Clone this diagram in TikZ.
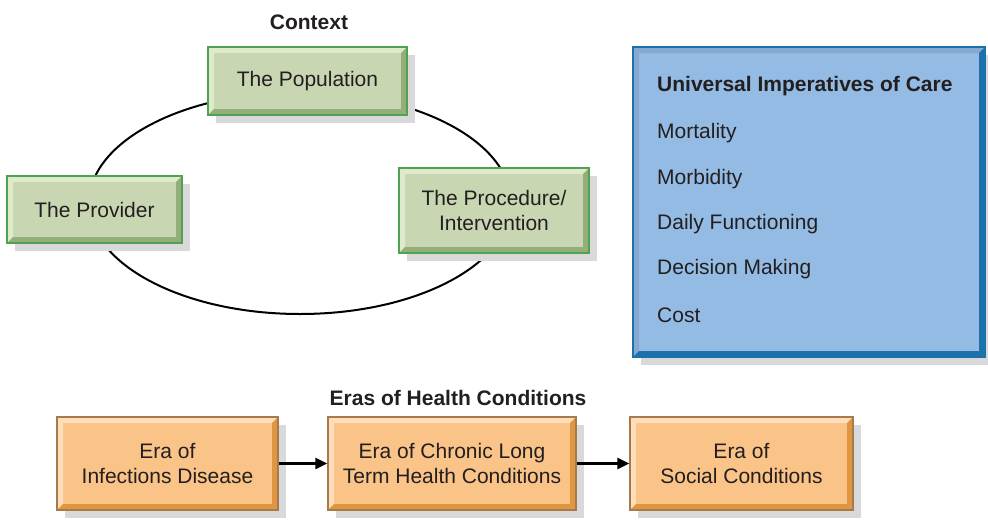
\documentclass[tikz,border=0pt]{standalone}
\usepackage{fontspec}
\setmainfont{Liberation Sans}
\usetikzlibrary{arrows.meta}
\definecolor{txt}{HTML}{231F20}
\definecolor{shadowc}{HTML}{D9D9DC}
\definecolor{gmain}{HTML}{C8D6B1}
\definecolor{glight}{HTML}{DDEBCA}
\definecolor{gdark}{HTML}{93AE78}
\definecolor{gborder}{HTML}{4FA24F}
\definecolor{bmain}{HTML}{93BBE3}
\definecolor{blight}{HTML}{84AAD1}
\definecolor{bdark}{HTML}{1B72AA}
\definecolor{omain}{HTML}{FAC387}
\definecolor{olight}{HTML}{FDDDBA}
\definecolor{odark}{HTML}{E0953F}
\definecolor{oborder}{HTML}{A57A4C}
\tikzset{
  txtstyle/.style={font=\fontsize{21}{25}\selectfont, text=txt},
  bevelbox/.style n args={4}{
    draw=#3, line width=1.2pt, fill=#1, inner sep=0pt, align=center,
    txtstyle,
    preaction={fill=shadowc, draw=none, transform canvas={xshift=8pt,yshift=-8pt}},
    path picture={
      \fill[#2] (path picture bounding box.north west) -- (path picture bounding box.north east)
        -- ([xshift=-6pt,yshift=-6pt]path picture bounding box.north east)
        -- ([xshift=6pt,yshift=-6pt]path picture bounding box.north west) -- cycle;
      \fill[#2] (path picture bounding box.north west) -- (path picture bounding box.south west)
        -- ([xshift=6pt,yshift=6pt]path picture bounding box.south west)
        -- ([xshift=6pt,yshift=-6pt]path picture bounding box.north west) -- cycle;
      \fill[#4] (path picture bounding box.north east) -- (path picture bounding box.south east)
        -- ([xshift=-6pt,yshift=6pt]path picture bounding box.south east)
        -- ([xshift=-6pt,yshift=-6pt]path picture bounding box.north east) -- cycle;
      \fill[#4] (path picture bounding box.south west) -- (path picture bounding box.south east)
        -- ([xshift=-6pt,yshift=6pt]path picture bounding box.south east)
        -- ([xshift=6pt,yshift=6pt]path picture bounding box.south west) -- cycle;
    }
  },
  greenbox/.style={bevelbox={gmain}{glight}{gborder}{gdark}},
  bluebox/.style={bevelbox={bmain}{blight}{bdark}{bdark}},
  orangebox/.style={bevelbox={omain}{olight}{oborder}{odark}},
  title/.style={font=\fontsize{21}{25}\selectfont\bfseries, text=txt},
  listitem/.style={txtstyle, anchor=west, inner sep=0pt},
  flow/.style={line width=2.4pt, -{Triangle[length=12pt,width=11pt]}}
}
\begin{document}
\begin{tikzpicture}[x=1pt,y=-1pt]
\useasboundingbox (0,0) rectangle (988,523);
\draw[line width=2pt, black] (300,203) ellipse [x radius=211, y radius=111];
\node[title] (ctx) at (309,22) {Context};
\node[greenbox, minimum width=199pt, minimum height=68pt] (pop) at (307.5,81) {The Population};
\node[greenbox, minimum width=175pt, minimum height=67pt] (prov) at (94.5,209.5) {The Provider};
\node[greenbox, minimum width=190pt, minimum height=85pt] (proc) at (494,210.5) {The Procedure/\\Intervention};
\node[bluebox, minimum width=352pt, minimum height=310pt] (blue) at (809,202) {};
\node[listitem, font=\fontsize{21}{25}\selectfont\bfseries] (uic) at (657,86) {Universal Imperatives of Care};
\node[listitem] (mort) at (657,133) {Mortality};
\node[listitem] (morb) at (657,179) {Morbidity};
\node[listitem] (daily) at (657,224) {Daily Functioning};
\node[listitem] (dec) at (657,269) {Decision Making};
\node[listitem] (cost) at (657,315) {Cost};
\node[title] (eras) at (458,398) {Eras of Health Conditions};
\node[orangebox, minimum width=221pt, minimum height=93pt] (e1) at (167.5,463.5) {Era of\\Infections Disease};
\node[orangebox, minimum width=248pt, minimum height=93pt] (e2) at (452,463.5) {Era of Chronic Long\\Term Health Conditions};
\node[orangebox, minimum width=223pt, minimum height=93pt] (e3) at (741.5,463.5) {Era of\\Social Conditions};
\draw[flow] (e1.east) -- (e2.west);
\draw[flow] (e2.east) -- (e3.west);
\end{tikzpicture}
\end{document}
